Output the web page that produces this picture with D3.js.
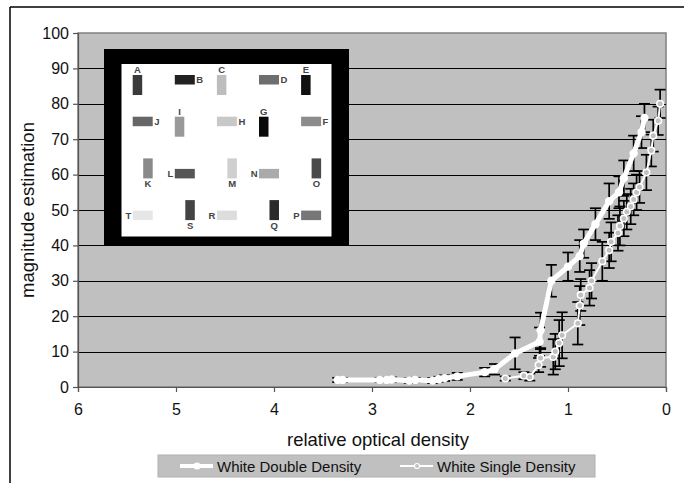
<!DOCTYPE html>
<html>
<head>
<meta charset="utf-8">
<script src="https://cdn.jsdelivr.net/npm/d3@7"></script>
<style>
  html, body { margin: 0; padding: 0; background: #fff; }
  svg { display: block; font-family: "Liberation Sans", Arial, sans-serif; }
</style>
</head>
<body>
<svg id="chart" width="684" height="483"></svg>
<script>
// ---- data ----
const xTicks = [6, 5, 4, 3, 2, 1, 0];
const yTicks = [0, 10, 20, 30, 40, 50, 60, 70, 80, 90, 100];
const seriesNames = ["White Double Density", "White Single Density"];

// White Double Density: relative optical density, magnitude estimation, error (+/-)
const doubleX   = [3.35, 3.30, 2.92, 2.85, 2.80, 2.62, 2.56, 2.38, 2.32, 2.26, 2.13, 1.85, 1.75, 1.54, 1.29, 1.28, 1.17, 1.00, 0.88, 0.84, 0.72, 0.58, 0.48, 0.43, 0.33, 0.25, 0.22];
const doubleY   = [2.0, 2.0, 2.0, 2.0, 2.1, 1.8, 2.0, 1.8, 2.2, 2.5, 3.0, 4.2, 5.0, 9.5, 12.8, 16.0, 30.0, 34.0, 37.0, 40.5, 46.0, 52.5, 55.0, 59.0, 66.0, 72.0, 76.0];
const doubleErr = [0.6, 0.6, 0.6, 0.6, 0.6, 0.6, 0.6, 0.7, 0.7, 0.8, 1.0, 1.2, 1.5, 4.5, 4.0, 5.0, 4.5, 4.0, 4.5, 4.0, 4.5, 5.0, 4.5, 5.0, 5.0, 4.5, 4.0];

// White Single Density
const singleX   = [1.64, 1.45, 1.39, 1.30, 1.28, 1.15, 1.13, 1.09, 1.06, 0.90, 0.88, 0.87, 0.78, 0.76, 0.65, 0.58, 0.56, 0.49, 0.47, 0.43, 0.40, 0.36, 0.33, 0.30, 0.27, 0.20, 0.15, 0.13, 0.08, 0.06];
const singleY   = [2.4, 3.2, 2.8, 6.2, 8.2, 8.5, 10.0, 12.4, 14.6, 18.0, 23.0, 26.0, 28.0, 30.0, 35.5, 38.6, 41.0, 43.5, 45.5, 47.6, 49.5, 51.0, 53.0, 55.0, 56.5, 60.6, 66.8, 71.0, 75.2, 80.0];
const singleErr = [0.6, 1.0, 1.0, 2.0, 2.5, 5.0, 5.0, 6.5, 6.5, 6.0, 5.5, 4.5, 5.0, 5.0, 5.5, 5.0, 5.5, 5.0, 5.5, 5.0, 5.0, 5.0, 4.5, 5.0, 4.5, 5.0, 4.5, 4.5, 4.0, 4.0];

// stimulus patches shown in the inset panel
const patchLetters = ["A","B","C","D","E","J","I","H","G","F","K","L","M","N","O","T","S","R","Q","P"];
const patchGreys   = ["#3a3a3a","#222222","#bdbdbd","#6e6e6e","#111111",
                      "#666666","#999999","#c8c8c8","#0a0a0a","#8c8c8c",
                      "#8a8a8a","#555555","#cfcfcf","#aaaaaa","#4a4a4a",
                      "#e6e6e6","#444444","#dddddd","#2a2a2a","#777777"];

// ---- layout ----
const svg = d3.select("#chart");
const W = 684, H = 483;
const plot = { left: 78, right: 666, top: 33, bottom: 387 };
const FONT = "'Liberation Sans', Arial, sans-serif";

const x = d3.scaleLinear().domain([6, 0]).range([plot.left, plot.right]);
const y = d3.scaleLinear().domain([0, 100]).range([plot.bottom, plot.top]);

// outer frame (top and left edges)
svg.append("line").attr("x1", 10).attr("x2", W).attr("y1", 7).attr("y2", 7)
  .attr("stroke", "#000").attr("stroke-width", 1.5);
svg.append("line").attr("x1", 10).attr("x2", 10).attr("y1", 7).attr("y2", H)
  .attr("stroke", "#000").attr("stroke-width", 1.5);

// plot background
svg.append("rect")
  .attr("x", plot.left).attr("y", plot.top)
  .attr("width", plot.right - plot.left).attr("height", plot.bottom - plot.top)
  .attr("fill", "#c0c0c0").attr("stroke", "#808080").attr("stroke-width", 1.5);

// horizontal gridlines
svg.append("g").selectAll("line")
  .data(yTicks.filter(d => d > 0 && d < 100))
  .join("line")
  .attr("x1", plot.left).attr("x2", plot.right)
  .attr("y1", d => Math.round(y(d)) + 0.5).attr("y2", d => Math.round(y(d)) + 0.5)
  .attr("stroke", "#000").attr("stroke-width", 1.2);

// axes
const xAxis = svg.append("g")
  .attr("transform", `translate(0,${plot.bottom})`)
  .call(d3.axisBottom(x).tickValues(xTicks).tickFormat(d3.format("d")).tickSize(5).tickPadding(12));
const yAxis = svg.append("g")
  .attr("transform", `translate(${plot.left},0)`)
  .call(d3.axisLeft(y).tickValues(yTicks).tickFormat(d3.format("d")).tickSize(5).tickPadding(4));
[xAxis, yAxis].forEach(g => {
  g.select(".domain").attr("stroke", "#555").attr("stroke-width", 1.2);
  g.selectAll(".tick line").attr("stroke", "#555").attr("stroke-width", 1.2);
  g.selectAll(".tick text").attr("font-size", 16).attr("fill", "#111")
    .attr("font-family", FONT);
});

// axis titles
svg.append("text")
  .attr("x", 378).attr("y", 446)
  .attr("text-anchor", "middle").attr("font-size", 18.5).attr("fill", "#111")
  .text("relative optical density");
svg.append("text")
  .attr("transform", `translate(34,${(plot.top + plot.bottom) / 2}) rotate(-90)`)
  .attr("text-anchor", "middle").attr("font-size", 18.5).attr("fill", "#111")
  .text("magnitude estimation");

// ---- inset: stimulus card ----
const inset = svg.append("g");
inset.append("rect").attr("x", 104).attr("y", 49).attr("width", 245).attr("height", y(40) - 49)
  .attr("fill", "#000");
inset.append("rect").attr("x", 121.5).attr("y", 64).attr("width", 210).attr("height", 172.5)
  .attr("fill", "#fff");

// patch grid: 5 columns x 4 rows of 20x20 cells, orientation alternating like a
// checkerboard; upper rows put the patch at the cell's top-left with the letter
// above/right, lower rows at the bottom-right with the letter below/left.
const cell0 = { x: 132.7, y: 75 }, cellStep = { x: 42.1, y: 41.7 };
const longSide = 20, shortSide = 9.5;
const patches = patchLetters.map((letter, i) => {
  const col = i % 5, row = Math.floor(i / 5);
  const vertical = (col % 2 === 0) !== (row % 2 === 1);
  return { letter, grey: patchGreys[i], col, row, vertical };
});
patches.forEach(p => {
  const cx = cell0.x + p.col * cellStep.x, cy = cell0.y + p.row * cellStep.y;
  const w = p.vertical ? shortSide : longSide, h = p.vertical ? longSide : shortSide;
  const upper = p.row < 2;
  const rx = upper ? cx : cx + longSide - w;
  const ry = upper ? cy : cy + longSide - h;
  inset.append("rect").attr("x", rx).attr("y", ry).attr("width", w).attr("height", h)
    .attr("fill", p.grey);
  let lx, ly, anchor;
  if (p.vertical) {
    lx = rx + w / 2; anchor = "middle";
    ly = upper ? ry - 2 : ry + h + 9;
  } else {
    ly = ry + h / 2 + 3.4;
    if (upper) { lx = rx + w + 1.5; anchor = "start"; }
    else { lx = rx - 1.5; anchor = "end"; }
  }
  inset.append("text").attr("x", lx).attr("y", ly).attr("text-anchor", anchor)
    .attr("font-size", 9.5).attr("font-weight", "bold").attr("fill", "#444")
    .text(p.letter);
});

// ---- series ----
const doubleData = doubleX.map((d, i) => ({ x: d, y: doubleY[i], e: doubleErr[i] }));
const singleData = singleX.map((d, i) => ({ x: d, y: singleY[i], e: singleErr[i] }));

function errorBars(data) {
  const g = svg.append("g").attr("stroke", "#000").attr("stroke-width", 1.7);
  data.forEach(d => {
    const px = x(d.x);
    g.append("line").attr("x1", px).attr("x2", px).attr("y1", y(d.y - d.e)).attr("y2", y(d.y + d.e));
    [d.y - d.e, d.y + d.e].forEach(v => {
      g.append("line").attr("x1", px - 5.5).attr("x2", px + 5.5).attr("y1", y(v)).attr("y2", y(v));
    });
  });
}
errorBars(singleData);
errorBars(doubleData);

const line = d3.line().x(d => x(d.x)).y(d => y(d.y));

svg.append("path").datum(singleData).attr("d", line)
  .attr("fill", "none").attr("stroke", "#fff").attr("stroke-width", 2);
svg.append("g").selectAll("circle").data(singleData).join("circle")
  .attr("cx", d => x(d.x)).attr("cy", d => y(d.y)).attr("r", 3.3)
  .attr("fill", "#c0c0c0").attr("stroke", "#fff").attr("stroke-width", 1.6);

svg.append("path").datum(doubleData).attr("d", line)
  .attr("fill", "none").attr("stroke", "#fff").attr("stroke-width", 5);
svg.append("g").selectAll("circle").data(doubleData).join("circle")
  .attr("cx", d => x(d.x)).attr("cy", d => y(d.y)).attr("r", 4.2)
  .attr("fill", "#fff");

// ---- legend ----
const legend = svg.append("g");
legend.append("rect").attr("x", 158).attr("y", 455).attr("width", 437).attr("height", 22)
  .attr("fill", "#c0c0c0").attr("stroke", "#b0b0b0");
const legendItems = [
  { name: seriesNames[0], x0: 180, width: 4, open: false },
  { name: seriesNames[1], x0: 400, width: 2, open: true }
];
legendItems.forEach(it => {
  legend.append("line").attr("x1", it.x0).attr("x2", it.x0 + 33).attr("y1", 466).attr("y2", 466)
    .attr("stroke", "#fff").attr("stroke-width", it.width);
  legend.append("circle").attr("cx", it.x0 + 17).attr("cy", 466).attr("r", it.open ? 2.5 : 3)
    .attr("fill", it.open ? "#c0c0c0" : "#fff").attr("stroke", "#fff").attr("stroke-width", 1.2);
  legend.append("text").attr("x", it.x0 + 37).attr("y", 471.5)
    .attr("font-size", 15).attr("fill", "#111").text(it.name);
});
</script>
</body>
</html>
